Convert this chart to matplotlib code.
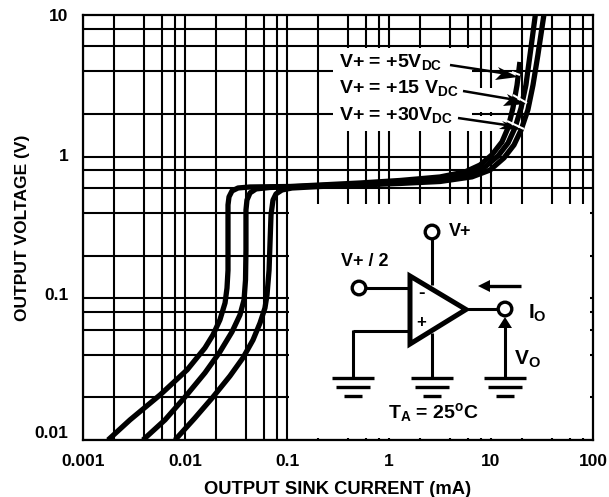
import numpy as np
import matplotlib
matplotlib.use('Agg')
import matplotlib.pyplot as plt
from matplotlib.patches import Rectangle, Polygon, Circle
from matplotlib.transforms import ScaledTranslation

plt.rcParams['font.family'] = ['Liberation Sans', 'DejaVu Sans']
plt.rcParams['font.weight'] = 'bold'
plt.rcParams['mathtext.fontset'] = 'custom'
plt.rcParams['mathtext.rm'] = 'Liberation Sans:bold'
plt.rcParams['mathtext.default'] = 'rm'

W, H = 609, 497

# sink current (mA) / output voltage (V)
i_5v = [0.00176, 0.00289, 0.00569, 0.0105, 0.0157, 0.0188, 0.022, 0.0247, 0.0258, 0.0264, 0.0264, 0.0264,
        0.027, 0.0289, 0.0331, 0.0434, 0.107, 0.211, 0.52, 1.28, 3.16, 5.56, 7.8, 10.2, 12.8, 14.7, 16.4,
        18, 19.2]
v_5v = [0.01, 0.01387, 0.0208, 0.0313, 0.0447, 0.0552, 0.0705, 0.0928, 0.118, 0.158, 0.304, 0.456,
        0.52, 0.573, 0.601, 0.611, 0.616, 0.631, 0.652, 0.679, 0.719, 0.78, 0.873, 1.03, 1.27, 1.6, 2.2,
        3.2, 4.66]
i_15v = [0.00387, 0.00637, 0.01, 0.0157, 0.022, 0.0289, 0.0346, 0.0379, 0.0392, 0.0396, 0.0396, 0.0405,
         0.0434, 0.0497, 0.0681, 0.134, 0.211, 0.52, 1.28, 3.16, 5.95, 8.7, 11.7, 14.7, 17.2, 19.7, 22,
         24.1, 27.2]
v_15v = [0.01, 0.01387, 0.0201, 0.0298, 0.0419, 0.058, 0.0764, 0.0975, 0.135, 0.22, 0.42, 0.494,
         0.555, 0.592, 0.606, 0.616, 0.625, 0.64, 0.662, 0.69, 0.749, 0.845, 1.01, 1.25, 1.6, 2.2, 3.2,
         5.2, 10]
i_30v = [0.00798, 0.0125, 0.0188, 0.0276, 0.037, 0.0464, 0.0544, 0.0608, 0.0637, 0.0667, 0.0697, 0.0729,
         0.078, 0.0893, 0.112, 0.211, 0.52, 1.28, 3.16, 6.5, 9.8, 13.4, 16.8, 19.7, 23, 25.8, 28.8, 33]
v_30v = [0.01, 0.0143, 0.0201, 0.0283, 0.038, 0.0508, 0.067, 0.0855, 0.1057, 0.158, 0.388, 0.494,
         0.546, 0.582, 0.601, 0.616, 0.631, 0.647, 0.668, 0.72, 0.805, 0.98, 1.21, 1.54, 2.14, 3.2, 5.2, 10]

x_ticks = [0.001, 0.01, 0.1, 1, 10, 100]
x_labels = ['0.001', '0.01', '0.1', '1', '10', '100']
y_ticks = [0.01, 0.1, 1, 10]
y_labels = ['0.01', '0.1', '1', '10']
grid_steps = [1, 2, 4, 6, 8]

fig = plt.figure(figsize=(W / 100, H / 100), dpi=100)
ax = fig.add_axes([83 / W, 1 - 440 / H, 510 / W, 425 / H])
ax.set_xscale('log')
ax.set_yscale('log')
ax.set_xlim(0.001, 100)
ax.set_ylim(0.01, 10)

for e in range(-3, 2):
    for s in grid_steps:
        ax.axvline(s * 10.0 ** e, color='black', lw=1.5, zorder=1)
for e in range(-2, 1):
    for s in grid_steps:
        ax.axhline(s * 10.0 ** e, color='black', lw=1.5, zorder=1)

for i_o, v_o in [(i_5v, v_5v), (i_15v, v_15v), (i_30v, v_30v)]:
    ax.plot(i_o, v_o, color='black', lw=3.8, solid_joinstyle='round', solid_capstyle='butt', zorder=3)

ax.set_xticks(x_ticks)
ax.set_xticklabels(x_labels)
ax.set_yticks(y_ticks)
ax.set_yticklabels(y_labels)
ax.minorticks_off()
ax.tick_params(axis='x', length=0, labelsize=12.5, pad=10)
ax.tick_params(axis='y', length=0, labelsize=12.5, pad=10.5)
for sp in ax.spines.values():
    sp.set_linewidth(1.6)
    sp.set_zorder(5)
ax.set_xlabel('OUTPUT SINK CURRENT (mA)', fontsize=13.2, fontweight='bold', labelpad=9)
ax.set_ylabel('OUTPUT VOLTAGE (V)', fontsize=12.5, fontweight='bold', labelpad=3.5)

# the y labels sit a little above their lines in the original
for lab, dy in zip(ax.get_yticklabels(), [8, 4, 2, 0]):
    lab.set_transform(lab.get_transform() + ScaledTranslation(0, dy / 100, fig.dpi_scale_trans))

# overlay in pixel coordinates for the schematic and the labels
ov = fig.add_axes([0, 0, 1, 1], zorder=10)
ov.set_xlim(0, W)
ov.set_ylim(H, 0)
ov.axis('off')
ov.patch.set_alpha(0)

ov.add_patch(Rectangle((289, 204), 301, 234, fc='white', ec='none'))
ov.add_patch(Rectangle((333, 48), 139, 83, fc='white', ec='none'))
ov.add_patch(Rectangle((472, 88), 26, 24, fc='white', ec='none'))
ov.add_patch(Rectangle((472, 116), 26, 15, fc='white', ec='none'))


def wire(xs, ys, lw=2.2, color='black'):
    ov.plot(xs, ys, color=color, lw=lw, solid_capstyle='butt', solid_joinstyle='miter')


# op amp
wire([432, 432], [238, 285])
wire([432, 432], [333, 378])
wire([366, 408], [288, 288])
wire([353, 408], [331, 331])
wire([353, 353], [330, 378])
wire([460, 498], [309, 309])
wire([505, 505], [326, 378])
ov.add_patch(Polygon([(410, 276), (410, 344), (466, 309.5)], closed=True, fc='white', ec='black', lw=3.6,
                     joinstyle='miter', zorder=4))
ov.add_patch(Polygon([(505, 317), (498, 328), (512, 328)], closed=True, fc='black', ec='none'))
ov.add_patch(Polygon([(478, 286), (490, 280), (490, 292)], closed=True, fc='black', ec='none'))
wire([488, 521], [286, 286], lw=2.4)
for cx, cy in [(432, 232), (359, 288), (505, 309)]:
    ov.add_patch(Circle((cx, cy), 6.8, fc='white', ec='black', lw=2.4, zorder=4))
for gx in [353, 432, 505]:
    wire([gx - 21, gx + 21], [378, 378], lw=2.4)
    wire([gx - 17, gx + 17], [387, 387], lw=2.4)
    wire([gx - 9, gx + 9], [396, 396], lw=2.4)

ov.text(449, 231, 'V+', fontsize=13, ha='left', va='center')
ov.text(341, 261, 'V+ / 2', fontsize=13, ha='left', va='center')
ov.text(421.5, 293, '-', fontsize=14, ha='center', va='center', zorder=6)
ov.text(421, 322, '+', fontsize=12, ha='center', va='center', zorder=6)
ov.text(528, 313, r'I$_{\mathrm{O}}$', fontsize=15, ha='left', va='center')
ov.text(514, 359, r'V$_{\mathrm{O}}$', fontsize=15, ha='left', va='center')
ov.text(388, 412, r'T$_{\mathrm{A}}$ = 25$^{\mathrm{o}}$C', fontsize=14, ha='left', va='center')

ov.text(339, 62, r'V+ = +5V$_{\mathrm{DC}}$', fontsize=14, ha='left', va='center')
ov.text(339, 88, r'V+ = +15 V$_{\mathrm{DC}}$', fontsize=14, ha='left', va='center')
ov.text(339, 115, r'V+ = +30V$_{\mathrm{DC}}$', fontsize=14, ha='left', va='center')

# pointers onto the curves, each with a white slash across the strands
pointers = [
    ((450, 65), (518, 77), (498, 67), (495, 80), (502, 73), (512, 72), (520, 75)),
    ((463, 91), (526, 104), (507, 94), (503, 106), (510, 99), (513, 95), (527, 103)),
    ((458, 118), (524, 130), (502, 121), (499, 129), (506, 125), (507, 121), (524, 129)),
]
for start, tip, back1, back2, notch, s0, s1 in pointers:
    wire([s0[0], s1[0]], [s0[1], s1[1]], lw=1.5, color='white')
    wire([start[0], notch[0]], [start[1], notch[1]], lw=1.8)
    ov.add_patch(Polygon([tip, back1, notch, back2], closed=True, fc='black', ec='none'))

fig.savefig('out.png', dpi=100)
